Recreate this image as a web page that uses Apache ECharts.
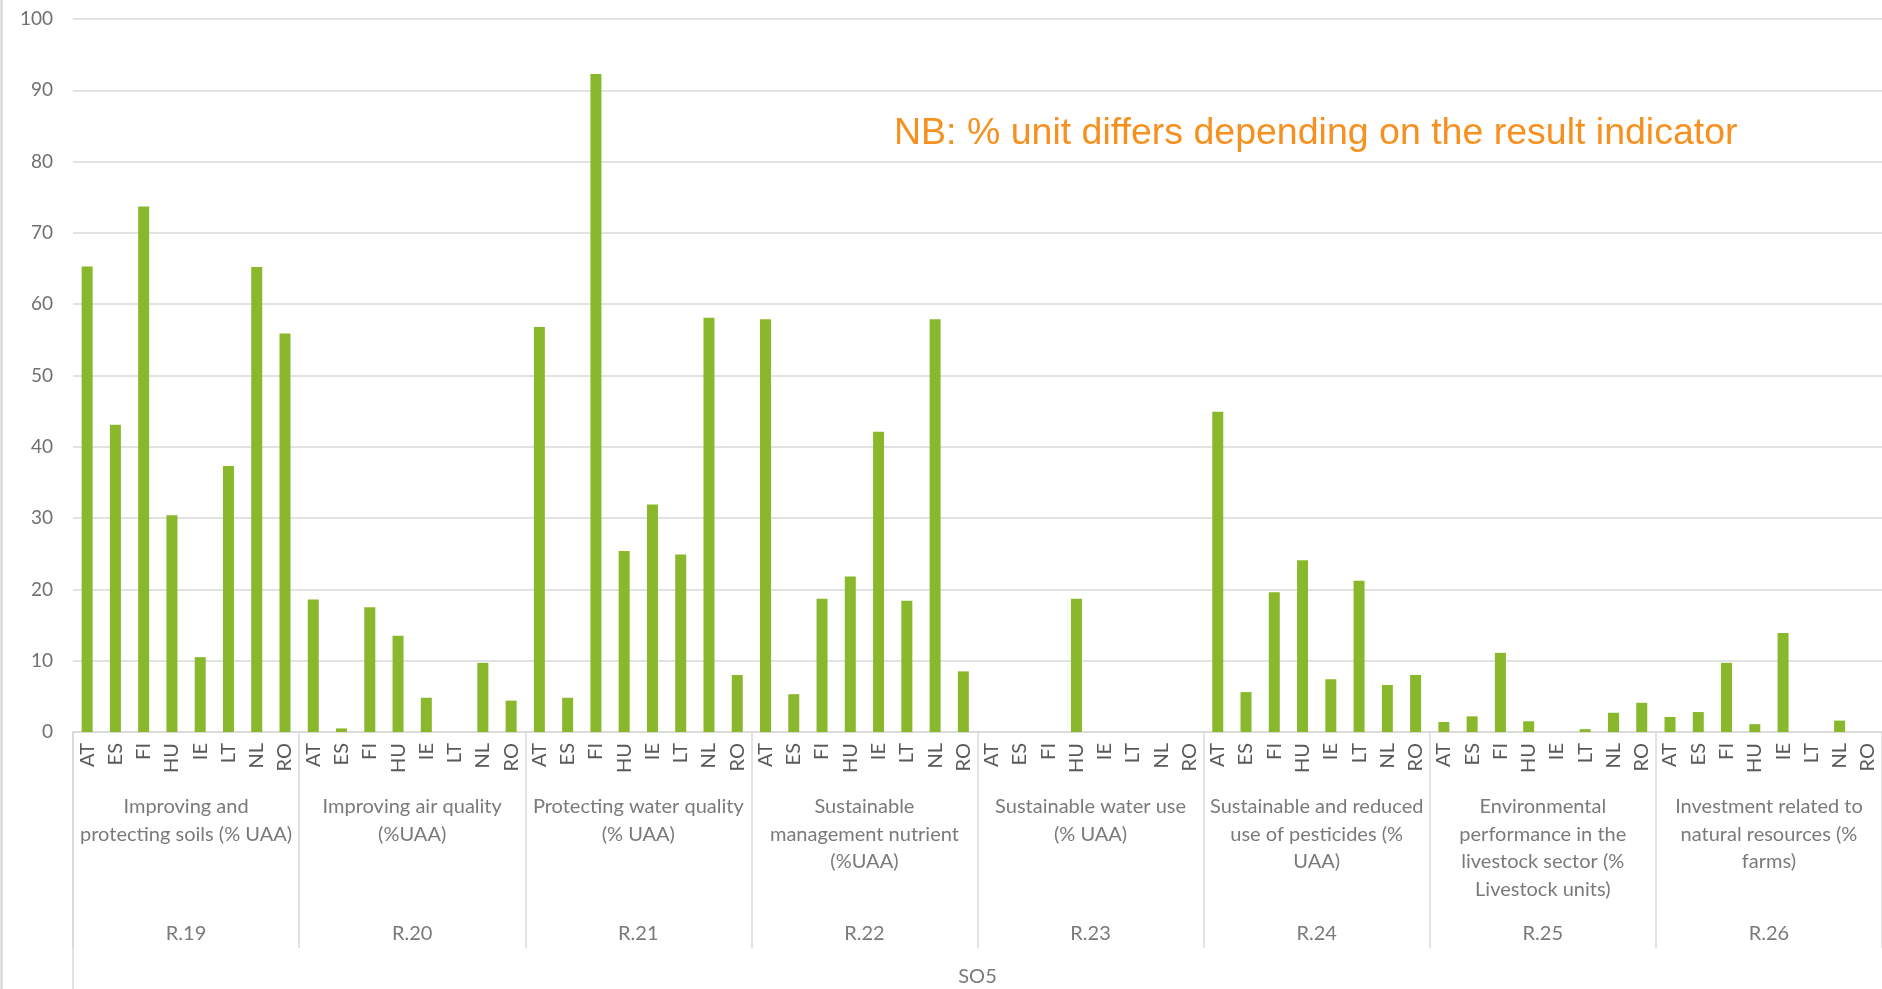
<!DOCTYPE html>
<html>
<head>
<meta charset="utf-8">
<script src="https://cdn.jsdelivr.net/npm/echarts@6/dist/echarts.min.js"></script>
<style>
html,body{margin:0;padding:0;background:#fff;}
#chart{width:1882px;height:989px;}
</style>
</head>
<body>
<div id="chart"></div>
<script>
const countries = ['AT','ES','FI','HU','IE','LT','NL','RO'];
const indicators = ['R.19','R.20','R.21','R.22','R.23','R.24','R.25','R.26'];
const indicatorNames = [
  'Improving and\nprotecting soils (% UAA)',
  'Improving air quality\n(%UAA)',
  'Protecting water quality\n(% UAA)',
  'Sustainable\nmanagement nutrient\n(%UAA)',
  'Sustainable water use\n(% UAA)',
  'Sustainable and reduced\nuse of pesticides (%\nUAA)',
  'Environmental\nperformance in the\nlivestock sector (%\nLivestock units)',
  'Investment related to\nnatural resources (%\nfarms)'
];
const objective = ['SO5'];
const yTicks = [0,10,20,30,40,50,60,70,80,90,100];

const r19 = [65.3, 43.1, 73.7, 30.4, 10.5, 37.3, 65.2, 55.9];
const r20 = [18.6, 0.5, 17.5, 13.5, 4.8, 0, 9.7, 4.4];
const r21 = [56.8, 4.8, 92.3, 25.4, 31.9, 24.9, 58.1, 8.0];
const r22 = [57.9, 5.3, 18.7, 21.8, 42.1, 18.4, 57.9, 8.5];
const r23 = [0, 0, 0, 18.7, 0, 0, 0, 0];
const r24 = [44.9, 5.6, 19.6, 24.1, 7.4, 21.2, 6.6, 8.0];
const r25 = [1.4, 2.2, 11.1, 1.5, 0, 0.4, 2.7, 4.1];
const r26 = [2.1, 2.8, 9.7, 1.1, 13.9, 0, 1.6, 0];

const allValues = [r19, r20, r21, r22, r23, r24, r25, r26].flat();
const xCodes = indicators.flatMap(() => countries);

const GRID_LEFT = 73, GRID_TOP = 19, GRID_W = 1813, GRID_H = 713;
const AXIS_Y = GRID_TOP + GRID_H;
const FONT = 'Lato, "Open Sans", sans-serif';
const LINE = '#d9d9d9';

const chart = echarts.init(document.getElementById('chart'), null, {renderer: 'canvas'});
chart.setOption({
  animation: false,
  backgroundColor: '#ffffff',
  grid: {left: GRID_LEFT, top: GRID_TOP, width: GRID_W, height: GRID_H, containLabel: false},
  xAxis: [
    {
      type: 'category', data: xCodes, position: 'bottom',
      axisLine: {show: true, lineStyle: {color: LINE, width: 1.5}},
      axisTick: {show: false},
      axisLabel: {interval: 0, rotate: 90, margin: 11, color: '#595959', fontSize: 20, fontFamily: FONT}
    },
    {
      type: 'category', data: indicatorNames, position: 'bottom', offset: 0,
      axisLine: {show: false},
      axisTick: {show: true, length: 216, lineStyle: {color: LINE, width: 1.5}},
      axisLabel: {interval: 0, margin: 61, color: '#7a7a7a', fontSize: 20, lineHeight: 27.6, fontFamily: FONT, align: 'center', verticalAlign: 'top'}
    },
    {
      type: 'category', data: indicators, position: 'bottom', offset: 0,
      axisLine: {show: false}, axisTick: {show: false},
      axisLabel: {interval: 0, margin: 190, color: '#7a7a7a', fontSize: 20, lineHeight: 24, fontFamily: FONT, verticalAlign: 'top'}
    },
    {
      type: 'category', data: objective, position: 'bottom', offset: 0,
      axisLine: {show: false}, axisTick: {show: false},
      axisLabel: {interval: 0, margin: 233, color: '#7a7a7a', fontSize: 20, lineHeight: 24, fontFamily: FONT, verticalAlign: 'top'}
    }
  ],
  yAxis: {
    type: 'value', min: 0, max: 100, interval: 10,
    axisLine: {show: false}, axisTick: {show: false},
    splitLine: {show: true, lineStyle: {color: LINE, width: 1.5}},
    axisLabel: {margin: 20, color: '#707070', fontSize: 19, fontFamily: FONT,
      formatter: v => yTicks.includes(v) ? String(v) : ''}
  },
  series: [{
    type: 'bar', xAxisIndex: 0, yAxisIndex: 0,
    data: allValues, barWidth: 11,
    itemStyle: {color: '#8ab82c'}
  }],
  graphic: [
    {type: 'line', shape: {x1: GRID_LEFT, y1: AXIS_Y, x2: GRID_LEFT, y2: 989}, style: {stroke: LINE, lineWidth: 1.5}, silent: true},
    {type: 'line', shape: {x1: 1.5, y1: 0, x2: 1.5, y2: 989}, style: {stroke: '#d0d0d0', lineWidth: 2}, silent: true},
    {type: 'text', left: 894, top: 115, silent: true,
      style: {text: 'NB: % unit differs depending on the result indicator', fill: '#f7901e', font: '37.5px "Liberation Sans", Arial, sans-serif'}}
  ]
});
</script>
</body>
</html>
